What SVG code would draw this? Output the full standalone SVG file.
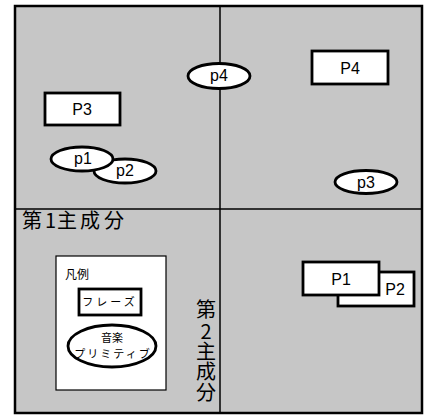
<svg xmlns="http://www.w3.org/2000/svg" width="425" height="416" viewBox="0 0 425 416">
<style>
.bg{fill:#c6c6c6;stroke:#000;stroke-width:2.5}
.axis{stroke:#000;stroke-width:1.5;fill:none}
.box{fill:#fff;stroke:#000;stroke-width:2.8}
.ell{fill:#fff;stroke:#000;stroke-width:2.8}
.lbl{font-family:"Liberation Sans",Arial,sans-serif;font-size:16px;fill:#000;text-anchor:middle}
.plbl{font-family:"Liberation Sans",Arial,sans-serif;font-size:16px;fill:#000;text-anchor:middle}
.jp{font-family:"Noto Sans CJK JP",sans-serif;fill:#000}
.leg{font-family:"Noto Sans CJK JP",sans-serif;font-size:11px;fill:#000;text-anchor:middle}
</style>
<rect width="425" height="416" fill="#fff"/>
<rect class="bg" x="15" y="6" width="407" height="407"/>
<g id="connectors">
<line class="axis" x1="220" y1="6" x2="220" y2="413"/>
<line class="axis" x1="15" y1="209" x2="422" y2="209"/>
</g>
<g id="axis-label-1">
<text class="jp" font-size="20" x="22 45 57 80 104" y="228">第1主成分</text>
</g>
<g id="axis-label-2">
<text class="jp" font-size="20" text-anchor="middle" x="206 206 206 206 206" y="317 339 359 379 400">第2主成分</text>
</g>
<g id="node-P3">
<rect class="box" x="45" y="93" width="75" height="32"/>
<text class="lbl" x="82" y="115">P3</text>
</g>
<g id="node-P4">
<rect class="box" x="312" y="51" width="76" height="33"/>
<text class="lbl" x="350" y="74">P4</text>
</g>
<g id="node-p4">
<ellipse class="ell" cx="219" cy="76" rx="31" ry="12.5"/>
<text class="plbl" x="219" y="81">p4</text>
</g>
<g id="node-p2">
<ellipse class="ell" cx="125" cy="171" rx="31" ry="12"/>
<text class="plbl" x="125" y="176">p2</text>
</g>
<g id="node-p1">
<ellipse class="ell" cx="82" cy="159" rx="31" ry="12"/>
<text class="plbl" x="83" y="164">p1</text>
</g>
<g id="node-p3">
<ellipse class="ell" cx="366" cy="182" rx="31" ry="11.5"/>
<text class="plbl" x="366" y="188">p3</text>
</g>
<g id="node-P2">
<rect class="box" x="338" y="272" width="76" height="34"/>
<text class="lbl" x="395" y="295">P2</text>
</g>
<g id="node-P1">
<rect class="box" x="303" y="262" width="76" height="33"/>
<text class="lbl" x="341" y="285">P1</text>
</g>
<g id="legend">
<rect x="56" y="256" width="110" height="134" fill="#fff" stroke="#000" stroke-width="1.2"/>
<text class="jp" font-size="12" x="65" y="279">凡例</text>
<rect class="box" x="79" y="289" width="62" height="26"/>
<text class="leg" x="110" y="306" letter-spacing="3">フレーズ</text>
<ellipse class="ell" cx="112" cy="346" rx="44" ry="21"/>
<text class="leg" x="112" y="342">音楽</text>
<text class="leg" x="113" y="358" letter-spacing="2">プリミティブ</text>
</g>
</svg>
